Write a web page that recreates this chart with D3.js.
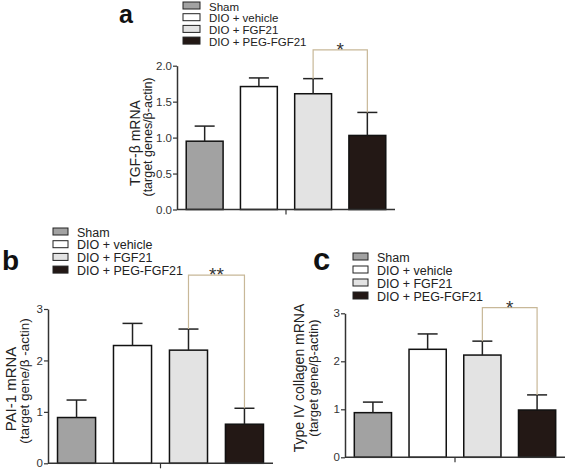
<!DOCTYPE html>
<html><head><meta charset="utf-8">
<script src="https://cdn.jsdelivr.net/npm/d3@7"></script>
<style>body{margin:0;background:#fff}svg{display:block}svg text{font-family:"Liberation Sans",Arial,Helvetica,sans-serif}</style>
</head><body><svg id="c" width="567" height="470"></svg>
<script>
const groups = ["Sham", "DIO + vehicle", "DIO + FGF21", "DIO + PEG-FGF21"];
const tgfMean = [0.95, 1.71, 1.61, 1.03];
const tgfSem  = [0.21, 0.12, 0.21, 0.32];
const paiMean = [0.89, 2.29, 2.20, 0.76];
const paiSem  = [0.34, 0.43, 0.41, 0.31];
const colMean = [0.93, 2.25, 2.13, 0.985];
const colSem  = [0.22, 0.32, 0.29, 0.315];
const tgfTicks = [0, 0.5, 1.0, 1.5, 2.0];
const intTicks = [0, 1, 2, 3];
const fills = ["#a2a2a2", "#ffffff", "#e3e3e3", "#231815"];
const FF = "'Liberation Sans', Arial, Helvetica, sans-serif";

const svg = d3.select("#c");

function txt(sel) { return sel.attr("font-family", FF).style("font-family", FF); }

function panel(o) {
  const g = svg.append("g");
  const x = d3.scaleBand().domain(groups).range([o.x0, o.x1]).paddingInner(0.32).paddingOuter(0.17);
  const y = d3.scaleLinear().domain([0, o.ymax]).range([o.y0, o.ytop]);
  g.selectAll("rect.bar").data(groups).enter().append("rect")
    .attr("x", d => x(d)).attr("width", x.bandwidth())
    .attr("y", (d, i) => y(o.mean[i])).attr("height", (d, i) => y(0) - y(o.mean[i]))
    .attr("fill", (d, i) => fills[i]).attr("stroke", "#111").attr("stroke-width", 1.5);
  const eb = g.selectAll("g.eb").data(groups).enter().append("g").attr("stroke", "#222").attr("stroke-width", 1.5);
  eb.append("line").attr("x1", d => x(d) + x.bandwidth() / 2).attr("x2", d => x(d) + x.bandwidth() / 2)
    .attr("y1", (d, i) => y(o.mean[i])).attr("y2", (d, i) => y(o.mean[i] + o.sem[i]));
  eb.append("line").attr("x1", d => x(d) + x.bandwidth() / 2 - 10).attr("x2", d => x(d) + x.bandwidth() / 2 + 10)
    .attr("y1", (d, i) => y(o.mean[i] + o.sem[i])).attr("y2", (d, i) => y(o.mean[i] + o.sem[i]));
  const ya = g.append("g").attr("transform", `translate(${o.x0},0)`)
    .call(d3.axisLeft(y).tickValues(o.ticks).tickFormat(o.fmt).tickSize(4).tickSizeOuter(0));
  ya.attr("font-family", FF);
  ya.select(".domain").attr("stroke", "#333").attr("stroke-width", 1.5);
  ya.selectAll(".tick line").attr("stroke", "#333").attr("stroke-width", 1.2);
  txt(ya.selectAll(".tick text")).attr("fill", "#333").style("font-size", "11.5px").attr("x", -5);
  g.append("line").attr("x1", o.x0).attr("x2", o.x1).attr("y1", y(0)).attr("y2", y(0)).attr("stroke", "#333").attr("stroke-width", 1.5);
  const mid = (o.x0 + o.x1) / 2;
  g.append("line").attr("x1", mid).attr("x2", mid).attr("y1", y(0)).attr("y2", y(0) + 5).attr("stroke", "#333").attr("stroke-width", 1.2);
  txt(g.append("text")).attr("transform", `translate(${o.lab1x},${o.labCy1}) rotate(-90)`).attr("text-anchor", "middle")
    .style("font-size", o.lab1fs + "px").attr("fill", "#222").text(o.lab1);
  txt(g.append("text")).attr("transform", `translate(${o.lab2x},${o.labCy2}) rotate(-90)`).attr("text-anchor", "middle")
    .style("font-size", o.lab2fs + "px").attr("fill", "#222").text(o.lab2);
  const cx2 = x(groups[2]) + x.bandwidth() / 2, cx3 = x(groups[3]) + x.bandwidth() / 2;
  const by = y(o.brY);
  g.append("path").attr("fill", "none").attr("stroke", "#c8b898").attr("stroke-width", 1.2)
    .attr("d", `M${cx2},${y(o.mean[2] + o.sem[2])}V${by}H${cx3}V${y(o.mean[3] + o.sem[3])}`);
  txt(g.append("text")).attr("x", (cx2 + cx3) / 2).attr("y", by + 6).attr("text-anchor", "middle")
    .style("font-size", "19px").attr("fill", "#333").text(o.star);
  const lg = g.append("g");
  groups.forEach((d, i) => {
    const ly = o.legY + i * o.legStep;
    lg.append("rect").attr("x", o.legX).attr("y", ly - 7).attr("width", o.legW).attr("height", 7)
      .attr("fill", fills[i]).attr("stroke", "#222").attr("stroke-width", 1);
    txt(lg.append("text")).attr("x", o.legX + o.legW + 9).attr("y", ly + 1.5).style("font-size", o.legFs + "px").attr("fill", "#222").text(d);
  });
  txt(g.append("text")).attr("x", o.letX).attr("y", o.letY).style("font-size", o.letFs + "px").style("font-weight", "bold")
    .attr("fill", "#111").text(o.letter);
}

panel({ x0: 177, x1: 395, y0: 209.5, ytop: 65.7, ymax: 2, mean: tgfMean, sem: tgfSem, ticks: tgfTicks, fmt: d3.format(".1f"),
  lab1: "TGF-\u03b2  mRNA", lab2: "(target genes/\u03b2-actin)", lab1x: 140, lab2x: 152, labCy1: 143, labCy2: 137, lab1fs: 14, lab2fs: 12.5,
  brY: 2.22, star: "*", legX: 183, legY: 9, legStep: 11.7, legW: 17, legFs: 11.5, letter: "a", letX: 119, letY: 23, letFs: 25 });

panel({ x0: 48, x1: 273, y0: 463.3, ytop: 309, ymax: 3, mean: paiMean, sem: paiSem, ticks: intTicks, fmt: d3.format("d"),
  lab1: "PAI-1 mRNA", lab2: "(target gene/\u03b2 -actin)", lab1x: 16, lab2x: 29, labCy1: 389, labCy2: 381, lab1fs: 15, lab2fs: 13.5,
  brY: 3.66, star: "**", legX: 53, legY: 235, legStep: 12.7, legW: 15, legFs: 12.5, letter: "b", letX: 2, letY: 270, letFs: 28 });

panel({ x0: 345, x1: 565, y0: 457.3, ytop: 313.3, ymax: 3, mean: colMean, sem: colSem, ticks: intTicks, fmt: d3.format("d"),
  lab1: "Type IV collagen mRNA", lab2: "(target gene/\u03b2-actin)", lab1x: 304, lab2x: 317.5, labCy1: 378, labCy2: 378, lab1fs: 14, lab2fs: 13,
  brY: 3.12, star: "*", legX: 353, legY: 260, legStep: 13, legW: 15, legFs: 12.5, letter: "c", letX: 313, letY: 270, letFs: 31 });
</script></body></html>
